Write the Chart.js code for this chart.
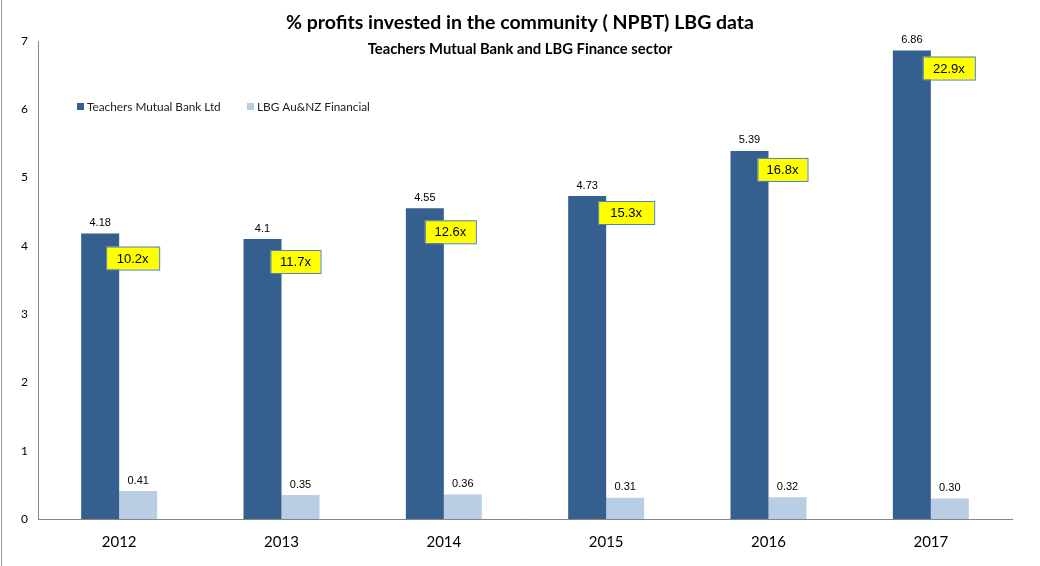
<!DOCTYPE html>
<html>
<head>
<meta charset="utf-8">
<script src="https://cdn.jsdelivr.net/npm/chart.js@4"></script>
<style>
  body { margin: 0; background: #fff; }
  #wrap { width: 1040px; height: 566px; position: relative; }
</style>
</head>
<body>
<div id="wrap"><canvas id="chart"></canvas></div>
<script>
// chart data
const years = ['2012', '2013', '2014', '2015', '2016', '2017'];
const teachersMutual = [4.18, 4.1, 4.55, 4.73, 5.39, 6.86];
const lbgFinancial = [0.41, 0.35, 0.36, 0.31, 0.32, 0.30];
const multiples = ['10.2x', '11.7x', '12.6x', '15.3x', '16.8x', '22.9x'];
const yTicks = [0, 1, 2, 3, 4, 5, 6, 7];

const FONT = 'Lato, "Open Sans", sans-serif';
const ARIAL = '"Liberation Sans", Arial, sans-serif';

// titles, legend, value labels and the yellow multiple boxes
const extras = {
    id: 'extras',
    afterDatasetsDraw(chart, args, opts) {
        const ctx = chart.ctx;
        ctx.save();

        // left border line of the original sheet
        ctx.strokeStyle = '#9a9a9a';
        ctx.lineWidth = 1;
        ctx.beginPath();
        ctx.moveTo(1.5, 0);
        ctx.lineTo(1.5, chart.height);
        ctx.stroke();

        ctx.fillStyle = '#000';
        ctx.textAlign = 'center';
        ctx.textBaseline = 'middle';
        ctx.font = 'bold 19.5px ' + FONT;
        ctx.fillText('% profits invested in the community ( NPBT) LBG data', 520, 23);
        ctx.font = 'bold 14.8px ' + FONT;
        ctx.fillText('Teachers Mutual Bank and LBG Finance sector', 520, 49);

        // legend
        ctx.textAlign = 'left';
        ctx.font = '11.8px ' + FONT;
        const legendX = [77, 247];
        chart.data.datasets.forEach((ds, i) => {
            ctx.fillStyle = ds.backgroundColor;
            ctx.fillRect(legendX[i], 103, 7, 7);
            ctx.fillStyle = '#222';
            ctx.fillText(ds.label, legendX[i] + 10, 107);
        });

        // value labels
        ctx.textAlign = 'center';
        ctx.textBaseline = 'bottom';
        ctx.font = '11px ' + ARIAL;
        ctx.fillStyle = '#000';
        chart.data.datasets.forEach((ds, i) => {
            const meta = chart.getDatasetMeta(i);
            meta.data.forEach((bar, j) => {
                const txt = i === 0 ? String(ds.data[j]) : ds.data[j].toFixed(2);
                ctx.fillText(txt, bar.x, bar.y - 5);
            });
        });

        // multiple boxes
        const dark = chart.getDatasetMeta(0);
        ctx.font = '13px ' + ARIAL;
        ctx.textBaseline = 'middle';
        dark.data.forEach((bar, j) => {
            const x = bar.x + bar.width / 2 + opts.dx[j];
            const y = bar.y + opts.dy[j];
            const w = opts.w[j], h = 23;
            ctx.fillStyle = '#ffff00';
            ctx.fillRect(x, y, w, h);
            ctx.strokeStyle = '#4f81bd';
            ctx.lineWidth = 1;
            ctx.strokeRect(x + 0.5, y + 0.5, w, h);
            ctx.fillStyle = '#000';
            ctx.fillText(multiples[j], x + w / 2, y + h / 2 + 1);
        });

        ctx.restore();
    }
};

new Chart(document.getElementById('chart'), {
    type: 'bar',
    data: {
        labels: years,
        datasets: [{
            label: 'Teachers Mutual Bank Ltd',
            data: teachersMutual,
            backgroundColor: '#355f8f'
        }, {
            label: 'LBG Au&NZ Financial',
            data: lbgFinancial,
            backgroundColor: '#b9cde5'
        }]
    },
    options: {
        responsive: true,
        maintainAspectRatio: false,
        animation: false,
        layout: { padding: { top: 41, right: 28, left: 0, bottom: 0 } },
        datasets: {
            bar: { categoryPercentage: 0.468, barPercentage: 1 }
        },
        plugins: {
            legend: { display: false },
            tooltip: { enabled: false },
            extras: {
                dx: [-13, -11, -19, -8, -11, -8],
                dy: [13, 11, 12, 5, 7, 6],
                w: [53, 50, 51, 56, 50, 52]
            }
        },
        scales: {
            x: {
                grid: { display: false, drawTicks: false },
                border: { color: '#868686' },
                ticks: { color: '#000', font: { size: 15, family: FONT }, padding: 14 },
                afterFit(s) { s.height = 47; }
            },
            y: {
                min: 0,
                max: 7,
                afterBuildTicks(s) { s.ticks = yTicks.map(v => ({ value: v })); },
                grid: { display: false, drawTicks: false },
                border: { color: '#868686' },
                ticks: { color: '#000', font: { size: 12, family: FONT }, padding: 10 },
                afterFit(s) { s.width = 38; }
            }
        }
    },
    plugins: [extras]
});
</script>
</body>
</html>
